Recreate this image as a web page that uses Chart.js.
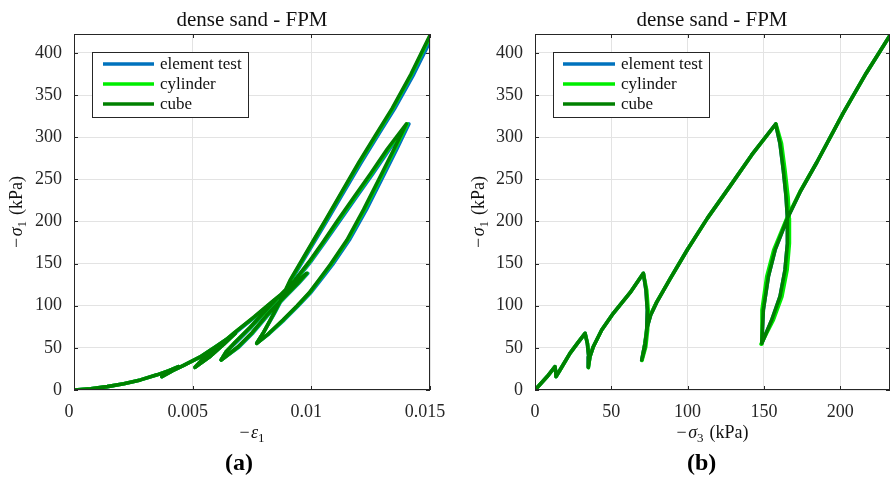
<!DOCTYPE html>
<html><head><meta charset="utf-8">
<script src="https://cdn.jsdelivr.net/npm/chart.js@4.4.1/dist/chart.umd.min.js"></script>
<style>
html,body{margin:0;padding:0;background:#fff;}
#wrap{position:relative;width:891px;height:479px;overflow:hidden;background:#fff}
canvas{position:absolute;top:0}
#cA{left:0}
#cB{left:445px}
</style></head><body>
<div id="wrap"><canvas id="cA" width="445" height="479"></canvas><canvas id="cB" width="446" height="479"></canvas></div>
<script>
// ---------- data ----------
const seriesNames = ['element test', 'cylinder', 'cube'];

// Panel (a): -sigma1 (kPa) along the stress-controlled path, shared by all series
const sig1A = [0,1.5,4,7.5,12,18,23,27.7, 22,15.8, 21,29,39,52,67.3, 54,39,26.9,
  36,46,57,69,87,106,122,138.5, 126,109,88,68,51,35.6,
  45,57,74,92,110,130,152,176,201,229,257,286,315.7,
  287,253,214,178,149,130,115,100,83,67,55.4,
  69,90,112,130,154,178,202,236,270,302,334,375,421];
// Panel (a): -eps1 per series
const eps1Elem = [0,0.0007,0.0014,0.0021,0.0028,0.0035,0.0040,0.0044, 0.0041,0.0037, 0.0040,0.0046,0.0053,0.0060,0.0068, 0.0063,0.0057,0.0051,
  0.0054,0.0058,0.0063,0.00685,0.00765,0.00845,0.00915,0.00985, 0.00945,0.00885,0.00815,0.00755,0.00695,0.0062,
  0.0064,0.00685,0.00745,0.00805,0.00865,0.00935,0.00997,0.01058,0.0112,0.0119,0.0126,0.0133,0.01411,
  0.01362,0.01302,0.01232,0.0116,0.0109,0.01038,0.00996,0.00945,0.00885,0.00823,0.0077,
  0.0080,0.00843,0.00884,0.00915,0.00966,0.01017,0.01068,0.01139,0.0121,0.0128,0.01351,0.01432,0.01513];
const eps1Cyl = [0,0.0007,0.0014,0.0021,0.0028,0.0035,0.0040,0.0044, 0.0041,0.0037, 0.0040,0.0046,0.0053,0.0060,0.0068, 0.0063,0.0057,0.0051,
  0.0054,0.0058,0.0063,0.0068,0.00762,0.00842,0.00912,0.00982, 0.00942,0.00882,0.00812,0.00752,0.00692,0.0062,
  0.0064,0.0068,0.00742,0.00802,0.00862,0.00932,0.00993,0.01053,0.01114,0.01184,0.01254,0.01324,0.01404,
  0.01354,0.01294,0.01224,0.01153,0.01083,0.01032,0.00992,0.00942,0.00882,0.00821,0.0077,
  0.0080,0.00841,0.00882,0.00912,0.00962,0.01012,0.01062,0.01132,0.01203,0.01273,0.01343,0.01423,0.01503];
const eps1Cube = [0,0.0007,0.0014,0.0021,0.0028,0.0035,0.0040,0.0044, 0.0041,0.0037, 0.0040,0.0046,0.0053,0.0060,0.0068, 0.0063,0.0057,0.0051,
  0.0054,0.0058,0.0063,0.0068,0.0076,0.0084,0.0091,0.0098, 0.0094,0.0088,0.0081,0.0075,0.0069,0.0062,
  0.0064,0.0068,0.0074,0.0080,0.0086,0.0093,0.0099,0.0105,0.0111,0.0118,0.0125,0.0132,0.0140,
  0.0135,0.0129,0.0122,0.0115,0.0108,0.0103,0.0099,0.0094,0.0088,0.0082,0.0077,
  0.0080,0.0084,0.0088,0.0091,0.0096,0.0101,0.0106,0.0113,0.0120,0.0127,0.0134,0.0142,0.0150];

// Panel (b): -sigma3 and -sigma1 (kPa)
const sig3Elem = [0,4,8,13.1, 13.6,13.8, 16.4,22.9,28,32.8, 34.3,35.2,34.9, 36,38.2,43.7,51.3,62.3,71,
  72.7,73.6,73.2,72.1,69.9, 72.1,73.6,75.8,79.7,88.5,100,113,127.8,142,157.7,
  160.5,162.7,164.5,165.4,165.4,163.8,160.5,155.1,148.6, 149.6,152.9,157.3,165.4,173.7,184.6,202,217,233];
const sig1BElem = [0,8,16,27.7, 21,15.8, 23.7,43.5,56,67.3, 55.4,39.5,26.9, 39.5,51.4,71.2,91,115.5,138.5,
  118.7,95,71.2,51.4,35.6, 55.4,75.1,89,104,132,167,204,242,279,315.7,
  292.8,261.1,229.5,203.8,174.1,142.4,110.7,83.1,55.4, 95,134.5,166.2,203.8,235,270,329,376,422];
const sig3Cyl = [0,4,8,13.1, 13.6,13.8, 16.4,22.9,28,32.8, 34.4,35.4,35.0, 36,38.2,43.7,51.3,62.3,71,
  73.2,74.2,73.8,72.6,70.1, 72.0,73.4,75.6,79.6,88.5,100,113,127.8,142,157.9,
  161.5,163.8,165.8,166.6,166.7,165.2,161.8,156.2,148.1, 148.7,151.8,156.4,165.0,173.5,184.6,202,217,233];
const sig1BCyl = [0,8,16,27.7, 21,15.8, 23.7,43.5,56,67.3, 55.4,39.5,26.5, 39.5,51.4,71.2,91,115.5,138.5,
  118.7,95,71.2,51.4,35.0, 55.4,75.1,89,104,132,167,204,242,279,315.7,
  292.8,261.1,229.5,203.8,174.1,142.4,110.7,83.1,54.5, 95,134.5,166.2,203.8,235,270,329,376,422];
const sig3Cube = [0,4,8,13.1, 13.6,13.8, 16.4,22.9,28,32.8, 34.3,35.2,34.9, 36,38.2,43.7,51.3,62.3,71,
  72.7,73.6,73.2,72.1,69.9, 72.1,73.6,75.8,79.7,88.5,100,113,127.8,142,157.7,
  160.5,162.7,164.5,165.4,165.4,163.8,160.5,155.1,148.6, 149.6,152.9,157.3,165.4,173.7,184.6,202,217,233];
const sig1BCube = [0,8,16,27.7, 21,15.8, 23.7,43.5,56,67.3, 55.4,39.5,26.9, 39.5,51.4,71.2,91,115.5,138.5,
  118.7,95,71.2,51.4,35.6, 55.4,75.1,89,104,132,167,204,242,279,315.7,
  292.8,261.1,229.5,203.8,174.1,142.4,110.7,83.1,55.4, 95,134.5,166.2,203.8,235,270,329,376,422];

// ticks
const xTicksA = [0, 0.005, 0.01, 0.015];
const xTickLabelsA = ['0', '0.005', '0.01', '0.015'];
const xTicksB = [0, 50, 100, 150, 200];
const xTickLabelsB = ['0', '50', '100', '150', '200'];
const yTicks = [0, 50, 100, 150, 200, 250, 300, 350, 400];
const yTickLabels = ['0', '50', '100', '150', '200', '250', '300', '350', '400'];
const xRangeA = [0, 0.015];
const xRangeB = [0, 232.6];
const yRange = [0, 422.5];

// ---------- styles ----------
const seriesColors = ['#0072BD', '#00EE00', '#008000'];
const seriesOrder = [3, 2, 1];
const FAM = 'Liberation Serif';
const AXC = '#262626';

function pts(xs, ys) { return xs.map((x, i) => ({ x: x, y: ys[i] })); }

function rich(ctx, parts, x, y) {
  let w = 0;
  parts.forEach(p => { ctx.font = p.f; p.w = ctx.measureText(p.t).width + (p.gap || 0); w += p.w; });
  let cx = x - w / 2;
  ctx.textAlign = 'left'; ctx.textBaseline = 'alphabetic';
  parts.forEach(p => { ctx.font = p.f; ctx.fillText(p.t, cx, y + (p.dy || 0)); cx += p.w; });
}

const F18 = '18px "' + FAM + '"';
const F18i = 'italic 18px "' + FAM + '"';
const F13 = '13px "' + FAM + '"';

function decor(cfg) {
  return {
    id: 'decor' + cfg.key,
    afterDatasetsDraw(chart) {
      const ctx = chart.ctx, a = chart.chartArea;
      const xs = chart.scales.x, ys = chart.scales.y;
      ctx.save();
      ctx.strokeStyle = AXC; ctx.lineWidth = 1;
      ctx.strokeRect(Math.round(a.left) + 0.5, Math.round(a.top) + 0.5, Math.round(a.right - a.left) - 1, Math.round(a.bottom - a.top) - 1);
      ctx.beginPath();
      cfg.xTicks.forEach(v => {
        const px = Math.round(xs.getPixelForValue(v)) + 0.5;
        ctx.moveTo(px, a.bottom); ctx.lineTo(px, a.bottom - 4);
        ctx.moveTo(px, a.top); ctx.lineTo(px, a.top + 4);
      });
      yTicks.forEach(v => {
        const py = Math.round(ys.getPixelForValue(v)) + 0.5;
        ctx.moveTo(a.left, py); ctx.lineTo(a.left + 4, py);
        ctx.moveTo(a.right, py); ctx.lineTo(a.right - 4, py);
      });
      ctx.stroke();
      const L = cfg.legend;
      ctx.fillStyle = '#fff'; ctx.fillRect(L.x, L.y, L.w, L.h);
      ctx.strokeStyle = AXC; ctx.lineWidth = 1;
      ctx.strokeRect(L.x + 0.5, L.y + 0.5, L.w, L.h);
      seriesNames.forEach((n, i) => {
        const ry = L.rows[i];
        ctx.strokeStyle = seriesColors[i]; ctx.lineWidth = 3.5; ctx.lineCap = 'butt';
        ctx.beginPath(); ctx.moveTo(L.l1, ry); ctx.lineTo(L.l2, ry); ctx.stroke();
        ctx.fillStyle = '#111'; ctx.font = '17px "' + FAM + '"'; ctx.textAlign = 'left'; ctx.textBaseline = 'middle';
        ctx.fillText(n, L.tx, ry + 1);
      });
      ctx.restore();
    },
    afterDraw(chart) {
      const ctx = chart.ctx;
      ctx.save();
      ctx.fillStyle = '#111';
      ctx.font = '21px "' + FAM + '"'; ctx.textAlign = 'center'; ctx.textBaseline = 'alphabetic';
      ctx.fillText('dense sand - FPM', cfg.titleX, 26);
      rich(ctx, cfg.xlabel, cfg.xlabelX, 438);
      ctx.save();
      ctx.translate(cfg.ylabelX, 212);
      ctx.rotate(-Math.PI / 2);
      rich(ctx, [{ t: '\u2212', f: F18, gap: 1.5 }, { t: '\u03C3', f: F18i }, { t: '1', f: F13, dy: 4, gap: 6 }, { t: '(kPa)', f: F18 }], 0, 0);
      ctx.restore();
      ctx.fillStyle = '#000';
      ctx.font = 'bold 24px "' + FAM + '"'; ctx.textAlign = 'center'; ctx.textBaseline = 'alphabetic';
      ctx.fillText(cfg.sub, cfg.subX, 470);
      ctx.restore();
    }
  };
}

function makeChart(id, sets, xRange, xTicks, xLabels, yW, padR, xLabelOffset, cfg) {
  const datasets = sets.map((d, i) => ({
    label: seriesNames[i], data: d, showLine: true,
    borderColor: seriesColors[i], backgroundColor: seriesColors[i],
    borderWidth: 3.6, pointRadius: 0, pointHoverRadius: 0, fill: false,
    clip: 0, order: seriesOrder[i], borderJoinStyle: 'round', borderCapStyle: 'round', tension: 0
  }));
  return new Chart(document.getElementById(id), {
    type: 'scatter',
    data: { datasets: datasets },
    options: {
      responsive: false, animation: false, devicePixelRatio: 1,
      layout: { padding: { left: 0, right: padR, top: 34, bottom: 0 } },
      plugins: { legend: { display: false }, tooltip: { enabled: false }, title: { display: false } },
      events: [],
      scales: {
        x: {
          type: 'linear', min: xRange[0], max: xRange[1],
          afterBuildTicks: s => { s.ticks = xTicks.map(v => ({ value: v })); },
          afterFit: s => { s.height = 89; s.paddingLeft = 0; s.paddingRight = 0; },
          ticks: { callback: (v, i) => xLabels[i], font: { family: FAM, size: 18 }, color: AXC, padding: 11, maxRotation: 0, autoSkip: false, labelOffset: xLabelOffset },
          grid: { color: '#e3e3e3', lineWidth: 1, drawTicks: false },
          border: { display: false }
        },
        y: {
          type: 'linear', min: yRange[0], max: yRange[1],
          afterBuildTicks: s => { s.ticks = yTicks.map(v => ({ value: v })); },
          afterFit: s => { s.width = yW; s.paddingTop = 0; s.paddingBottom = 0; },
          ticks: { callback: (v, i) => yTickLabels[i], font: { family: FAM, size: 18 }, color: AXC, padding: 12, autoSkip: false },
          grid: { color: '#e3e3e3', lineWidth: 1, drawTicks: false },
          border: { display: false }
        }
      }
    },
    plugins: [decor(cfg)]
  });
}

makeChart('cA', [pts(eps1Elem, sig1A), pts(eps1Cyl, sig1A), pts(eps1Cube, sig1A)],
  xRangeA, xTicksA, xTickLabelsA, 74, 15, -5, {
    key: 'A', xTicks: xTicksA, titleX: 252,
    xlabel: [{ t: '\u2212', f: F18, gap: 1.5 }, { t: '\u03B5', f: F18i }, { t: '1', f: F13, dy: 4 }], xlabelX: 252,
    ylabelX: 22, sub: '(a)', subX: 239,
    legend: { x: 92, y: 52, w: 156, h: 65, rows: [64, 84, 104], l1: 103, l2: 154, tx: 160 }
  });

makeChart('cB', [pts(sig3Elem, sig1BElem), pts(sig3Cyl, sig1BCyl), pts(sig3Cube, sig1BCube)],
  xRangeB, xTicksB, xTickLabelsB, 90, 1, 0, {
    key: 'B', xTicks: xTicksB, titleX: 267,
    xlabel: [{ t: '\u2212', f: F18, gap: 1.5 }, { t: '\u03C3', f: F18i }, { t: '3', f: F13, dy: 4, gap: 6 }, { t: '(kPa)', f: F18 }], xlabelX: 267.5,
    ylabelX: 39, sub: '(b)', subX: 256.7,
    legend: { x: 108, y: 52, w: 156, h: 65, rows: [64, 84, 104], l1: 118, l2: 170, tx: 176 }
  });
</script>
</body></html>
